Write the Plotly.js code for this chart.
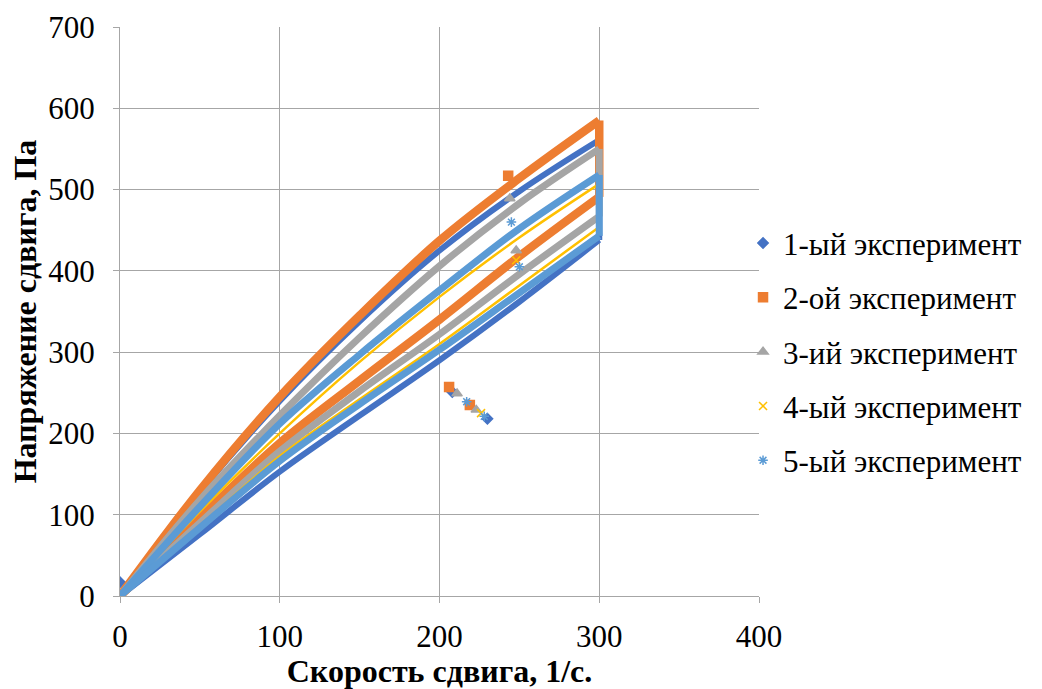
<!DOCTYPE html>
<html>
<head>
<meta charset="utf-8">
<script src="https://cdn.plot.ly/plotly-3.0.1.min.js"></script>
<style>
html,body{margin:0;padding:0;background:#fff;}
#chart{width:1042px;height:689px;}
</style>
</head>
<body>
<div id="chart"></div>
<script>
// shear rate grid
const xRate = [0, 50, 100, 150, 200, 250, 300];

// up (loading) and down (unloading) branches, shear stress in Pa
const s1Up   = [0, 128, 240, 338, 425, 498, 561];
const s1Down = [0, 76, 153, 222, 290, 362, 438];
const s2Up   = [0, 130, 245, 345, 437, 514, 585];
const s2Down = [0, 96, 188, 265, 340, 418, 491];
const s3Up   = [0, 118, 222, 318, 406, 483, 550];
const s3Down = [0, 90, 178, 252, 322, 396, 467];
const s4Up   = [0, 104, 200, 288, 368, 441, 507];
const s4Down = [0, 86, 172, 242, 310, 382, 454];
const s5Up   = [0, 110, 212, 297, 376, 452, 518];
const s5Down = [0, 84, 166, 236, 303, 373, 443];

// isolated points visible as separate markers
const s1PtX = [0, 208, 230];        const s1PtY = [17, 251, 218];
const s2PtX = [206, 219, 243];      const s2PtY = [257, 235, 517];
const s3PtX = [211, 223, 244, 248]; const s3PtY = [249, 229, 489, 425];
const s4PtX = [226, 248];           const s4PtY = [225, 413];
const s5PtX = [217, 228, 245, 250]; const s5PtY = [239, 221, 460, 405];

const names = ['1-ый эксперимент', '2-ой эксперимент', '3-ий эксперимент', '4-ый эксперимент', '5-ый эксперимент'];

const FONT = 'Liberation Serif';

const series = [
  {up: s1Up, down: s1Down, px: s1PtX, py: s1PtY, color: '#4472C4', sym: 'diamond', w: 6, ms: 8},
  {up: s2Up, down: s2Down, px: s2PtX, py: s2PtY, color: '#ED7D31', sym: 'square', w: 8.5, ms: 9},
  {up: s3Up, down: s3Down, px: s3PtX, py: s3PtY, color: '#A5A5A5', sym: 'triangle-up', w: 7, ms: 9},
  {up: s4Up, down: s4Down, px: s4PtX, py: s4PtY, color: '#FFC000', sym: 'x-thin-open', w: 2.5, ms: 8},
  {up: s5Up, down: s5Down, px: s5PtX, py: s5PtY, color: '#5B9BD5', sym: 'asterisk-open', w: 7, ms: 8}
];

const traces = [];
series.forEach((s, i) => {
  const g = 'g' + i;
  const last = xRate.length - 1;
  const base = {type: 'scatter', mode: 'lines', showlegend: false, legendgroup: g, hoverinfo: 'skip'};
  traces.push(Object.assign({}, base, {x: xRate, y: s.up, line: {color: s.color, width: s.w, shape: 'spline', smoothing: 1}}));
  traces.push(Object.assign({}, base, {x: [xRate[last], xRate[last]], y: [s.up[last], s.down[last]], line: {color: s.color, width: s.w}}));
  traces.push(Object.assign({}, base, {x: xRate, y: s.down, line: {color: s.color, width: s.w, shape: 'spline', smoothing: 1}}));
  traces.push({type: 'scatter', mode: 'markers', name: names[i], legendgroup: g, x: s.px, y: s.py,
               marker: {symbol: s.sym, color: s.color, size: s.ms, line: {color: s.color, width: 1.5}}});
});

const axisCommon = {
  showgrid: true, gridcolor: '#A6A6A6', gridwidth: 1, zeroline: false,
  showline: true, linecolor: '#A6A6A6', linewidth: 1, ticks: 'outside', ticklen: 6, tickcolor: '#A6A6A6',
  fixedrange: true
};

const layout = {
  width: 1042, height: 689,
  margin: {l: 120, r: 283, t: 27, b: 93},
  paper_bgcolor: '#ffffff', plot_bgcolor: '#ffffff',
  font: {family: FONT, color: '#000000', size: 30},
  showlegend: true,
  legend: {x: 0.975, xanchor: 'left', y: 0.429, yanchor: 'middle', tracegroupgap: 11,
           font: {family: 'Times New Roman', size: 31, color: '#000000', weight: 400},
           bgcolor: 'rgba(0,0,0,0)', itemsizing: 'trace'},
  xaxis: Object.assign({}, axisCommon, {
    range: [0, 400], tickvals: [0, 100, 200, 300, 400], ticklabelstandoff: 7,
    tickfont: {family: FONT, size: 31, color: '#000000'},
    title: {text: 'Скорость сдвига, 1/с.', font: {family: FONT, size: 32, weight: 'bold', color: '#000000'}, standoff: 6}}),
  yaxis: Object.assign({}, axisCommon, {
    range: [0, 700], tickvals: [0, 100, 200, 300, 400, 500, 600, 700], ticklabelstandoff: 12,
    tickfont: {family: 'serif', size: 31, color: '#000000'},
    title: {text: 'Напряжение сдвига, Па', font: {family: FONT, size: 32, weight: 'bold', color: '#000000'}, standoff: 2}})
};

Plotly.newPlot('chart', traces, layout, {displayModeBar: false});
</script>
</body>
</html>
